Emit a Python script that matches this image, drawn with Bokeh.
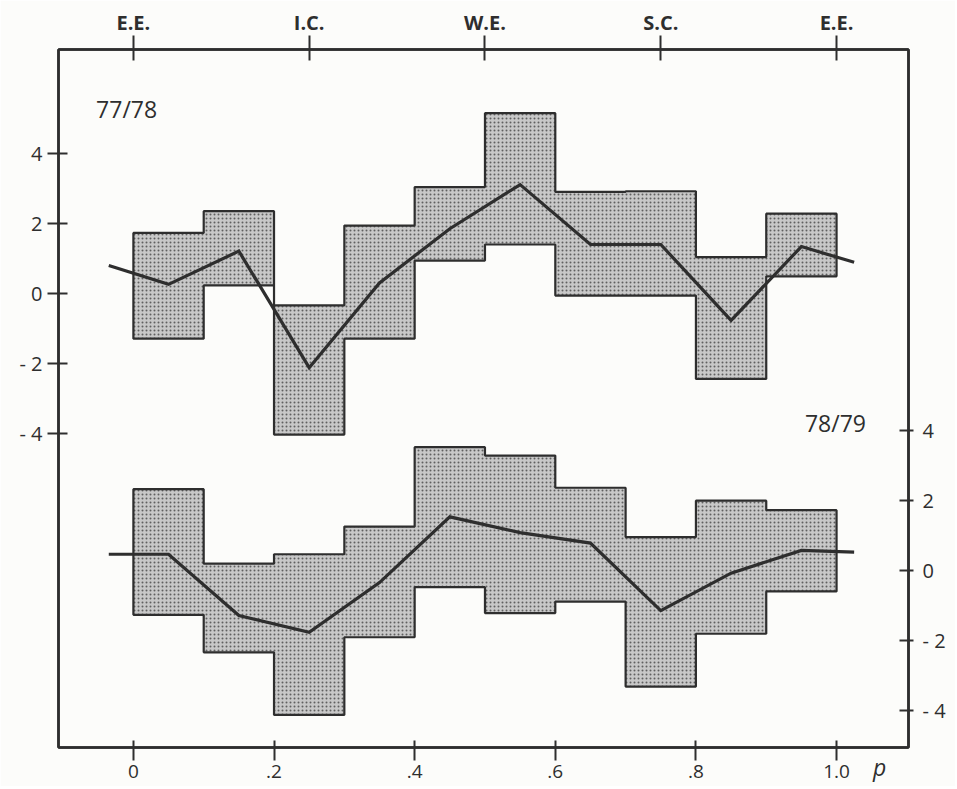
from bokeh.plotting import figure
from bokeh.models import Range1d, LinearAxis, FixedTicker, Label
from bokeh.embed import file_html
from bokeh.resources import INLINE

# ---- data ----
bin_edges = [0.0, 0.1, 0.2, 0.3, 0.4, 0.5, 0.6, 0.7, 0.8, 0.9, 1.0]

top_7778 = [1.73, 2.35, -0.34, 1.94, 3.04, 5.15, 2.90, 2.92, 1.04, 2.28]
bot_7778 = [-1.29, 0.23, -4.03, -1.29, 0.94, 1.40, -0.06, -0.06, -2.44, 0.49]

top_7879 = [2.32, 0.19, 0.46, 1.25, 3.52, 3.28, 2.36, 0.95, 1.99, 1.72]
bot_7879 = [-1.27, -2.34, -4.13, -1.91, -0.48, -1.22, -0.89, -3.32, -1.81, -0.60]

line_p = [-0.035, 0.05, 0.15, 0.25, 0.35, 0.45, 0.55, 0.65, 0.75, 0.85, 0.95, 1.025]
line_7778 = [0.80, 0.26, 1.21, -2.12, 0.30, 1.85, 3.11, 1.40, 1.40, -0.77, 1.34, 0.89]
line_7879 = [0.46, 0.46, -1.29, -1.77, -0.35, 1.53, 1.08, 0.78, -1.15, -0.08, 0.57, 0.52]

p_ticks = [0.0, 0.2, 0.4, 0.6, 0.8, 1.0]
p_labels = ["0", ".2", ".4", ".6", ".8", "1.0"]
season_ticks = [0.0, 0.25, 0.5, 0.75, 1.0]
season_labels = ["E.E.", "I.C.", "W.E.", "S.C.", "E.E."]
y_ticks = [-4, -2, 0, 2, 4]
y_labels = ["- 4", "- 2", "0", "2", "4"]

# offset of the lower (78/79) panel's scale relative to the upper one
lower_offset = 7.91

INK = "#2e2e2e"
FONT = "Open Sans"


def band_outline(edges, top, bot):
    xs, ys = [], []
    for i in range(len(top)):
        xs += [edges[i], edges[i + 1]]
        ys += [top[i], top[i]]
    for i in reversed(range(len(bot))):
        xs += [edges[i + 1], edges[i]]
        ys += [bot[i], bot[i]]
    return xs, ys


x_lo, x_hi = -0.1065, 1.1023
y_lo, y_hi = -12.97, 6.97
p = figure(width=955, height=786, output_backend="svg", toolbar_location=None,
           x_range=Range1d(x_lo, x_hi), y_range=Range1d(y_lo, y_hi),
           min_border_left=58, min_border_top=49, min_border_right=47, min_border_bottom=39,
           x_axis_location=None, y_axis_location=None)
p.extra_y_ranges = {"lower": Range1d(y_lo + lower_offset, y_hi + lower_offset)}
p.grid.visible = False
p.background_fill_color = "#fcfcfa"
p.border_fill_color = "#fcfcfa"
p.outline_line_color = INK
p.outline_line_width = 2.5


def style_axis(ax, tin, tout, standoff, size="20px", bold=False):
    ax.axis_line_color = INK
    ax.axis_line_width = 2.5
    ax.major_tick_line_color = INK
    ax.major_tick_line_width = 2
    ax.major_tick_in = tin
    ax.major_tick_out = tout
    ax.minor_tick_line_color = None
    ax.major_label_standoff = standoff
    ax.major_label_text_font = FONT
    ax.major_label_text_font_size = size
    ax.major_label_text_color = INK
    if bold:
        ax.major_label_text_font_style = "bold"


# left axis (77/78)
ax_l = LinearAxis(ticker=FixedTicker(ticks=y_ticks),
                  major_label_overrides={t: l for t, l in zip(y_ticks, y_labels)})
style_axis(ax_l, 9, 11, 5)
p.add_layout(ax_l, "left")

# right axis (78/79)
ax_r = LinearAxis(y_range_name="lower", ticker=FixedTicker(ticks=y_ticks),
                  major_label_overrides={t: l for t, l in zip(y_ticks, y_labels)})
style_axis(ax_r, 9, 5, 9)
p.add_layout(ax_r, "right")

# bottom axis (p)
ax_b = LinearAxis(ticker=FixedTicker(ticks=p_ticks),
                  major_label_overrides={t: l for t, l in zip(p_ticks, p_labels)})
style_axis(ax_b, 7, 13, 4, size="19px")
ax_b.axis_label = "p\u2003\u2003\u2002"
ax_b.axis_label_text_font = FONT
ax_b.axis_label_text_font_size = "23px"
ax_b.axis_label_text_font_style = "italic"
ax_b.axis_label_text_color = INK
ax_b.axis_label_standoff = -30
ax_b.axis_label_align = "end"
p.add_layout(ax_b, "below")

# top axis (seasons)
ax_t = LinearAxis(ticker=FixedTicker(ticks=season_ticks),
                  major_label_overrides={t: l for t, l in zip(season_ticks, season_labels)})
style_axis(ax_t, 11, 14, 0, size="20px", bold=True)
p.add_layout(ax_t, "above")

# bands
for top, bot, rng in [(top_7778, bot_7778, "default"), (top_7879, bot_7879, "lower")]:
    xs, ys = band_outline(bin_edges, top, bot)
    p.patch(xs, ys, y_range_name=rng, fill_color="#c8c8c8", hatch_pattern="dot",
            hatch_color="#606060", hatch_scale=4, hatch_weight=1.5,
            line_color=INK, line_width=2.2)

# mean lines
p.line(line_p, line_7778, line_color=INK, line_width=3.2, line_join="miter")
p.line(line_p, line_7879, y_range_name="lower", line_color=INK, line_width=3.2,
       line_join="miter")

# panel labels
p.add_layout(Label(x=-0.053, y=5.26, text="77/78", text_font=FONT, text_font_size="23px",
                   text_color=INK, text_baseline="middle"))
p.add_layout(Label(x=0.955, y=-3.71, text="78/79", text_font=FONT, text_font_size="23px",
                   text_color=INK, text_baseline="middle"))

open("out.html", "w").write(file_html(p, INLINE))
